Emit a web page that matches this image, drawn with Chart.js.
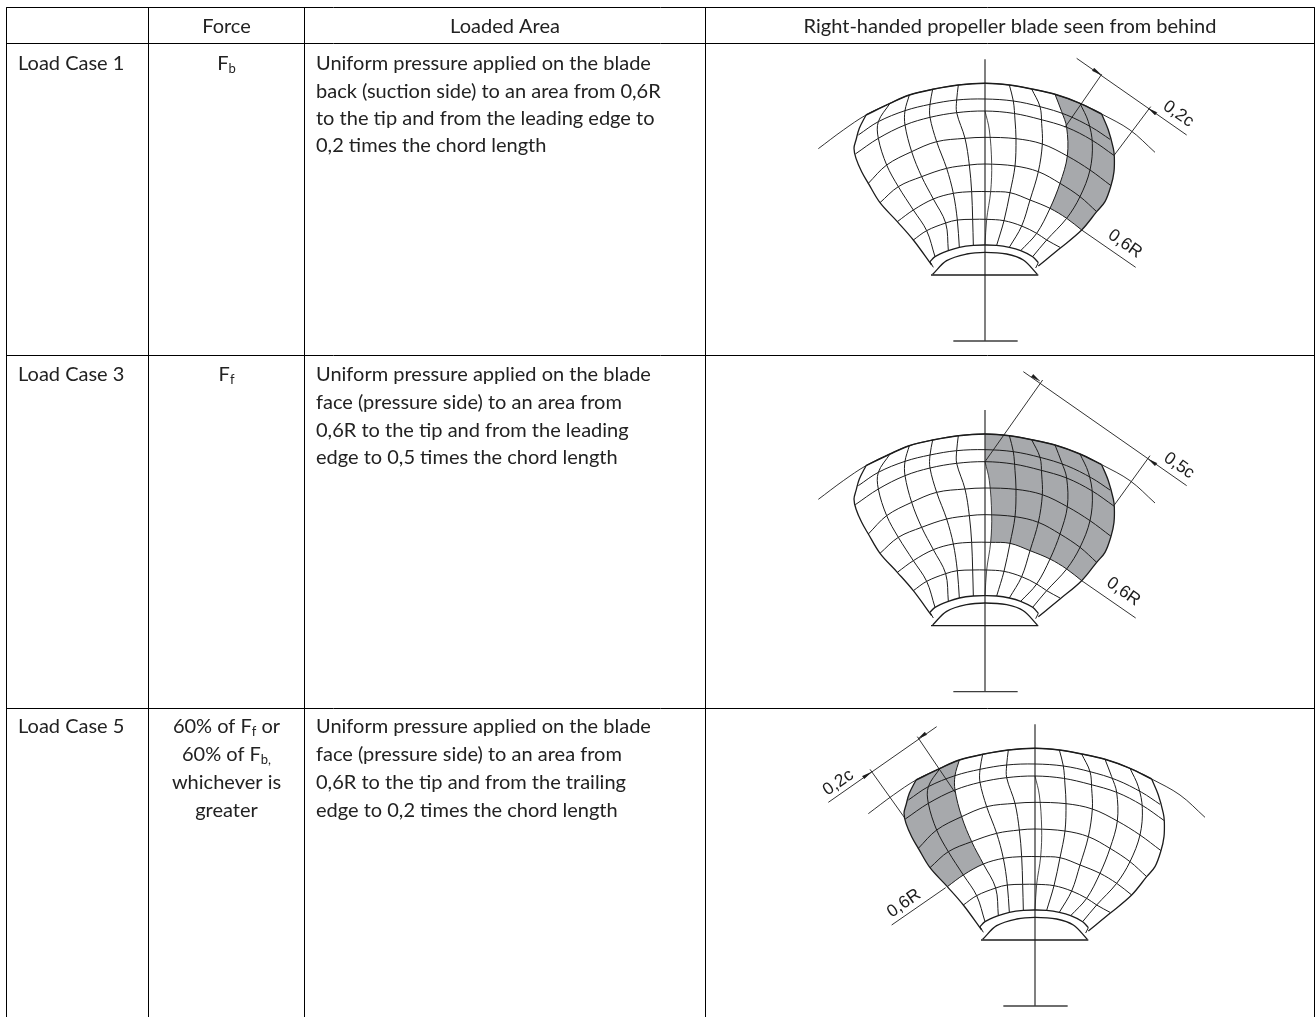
<!DOCTYPE html>
<html><head><meta charset="utf-8">
<style>html,body{margin:0;padding:0;background:#fff}canvas{display:block}</style>
<script src="https://cdn.jsdelivr.net/npm/chart.js@4/dist/chart.umd.js"></script>
</head><body><canvas id="c" width="1316" height="1017"></canvas>
<script>
// ---- table content
const headers = ["Force","Loaded Area","Right-handed propeller blade seen from behind"];
const caseNames = ["Load Case 1","Load Case 3","Load Case 5"];
const forceLines = [
  [[["F",0],["b",1]]],
  [[["F",0],["f",1]]],
  [[["60% of F",0],["f",1],[" or",0]],[["60% of F",0],["b",1],[",",1]],[["whichever is",0]],[["greater",0]]]
];
const areaLines = [
  ["Uniform pressure applied on the blade","back (suction side) to an area from 0,6R","to the tip and from the leading edge to","0,2 times the chord length"],
  ["Uniform pressure applied on the blade","face (pressure side) to an area from","0,6R to the tip and from the leading","edge to 0,5 times the chord length"],
  ["Uniform pressure applied on the blade","face (pressure side) to an area from","0,6R to the tip and from the trailing","edge to 0,2 times the chord length"]
];
// ---- table rules
const ruleYs = [7.5,43.5,355.5,708.5];
const ruleXs = [6.5,148.5,304.5,705.5,1314.5];
const rowTextY = [[64,92,119,146],[375,403,431,458],[727,755,783,811]];
// ---- blade drawing (units: 1/3 px, local to each blade's origin)
const bladeOrigins = [[780,40],[780,390.67],[830,705]];
const tipArc = [[258,225],[330,190],[388,165],[458,148],[535,135],[615,130],[688,135],[755,147],[825,163],[900,190],[965,222]];
const refArc = [[115,326],[190,270],[258,225],[330,190],[388,165],[458,148],[535,135],[615,130],[688,135],[755,147],[825,163],[900,190],[965,222],[1050,270],[1125,337]];
const leftEdge = [[258,225],[238,265],[228,300],[222,325],[228,355],[245,395],[265,430],[300,488],[352,545],[400,600],[455,675]];
const rightEdge = [[965,222],[985,270],[1000,325],[1003,350],[1002,395],[993,437],[975,485],[950,515],[905,570],[840,625],[775,678]];
const ring1 = [[235,285],[295,245],[375,212],[450,193],[530,180],[615,177],[700,183],[780,200],[860,225],[935,262],[990,298]];
const ring2 = [[226,342],[295,295],[375,255],[450,232],[530,218],[615,213],[700,220],[780,238],[860,262],[935,300],[1003,347]];
const ring3 = [[265,430],[320,375],[395,335],[470,305],[555,295],[615,292],[708,296],[787,312],[862,348],[930,390],[993,437]];
const ring4 = [[300,488],[355,440],[425,410],[500,385],[568,375],[615,372],[705,378],[775,395],[840,430],[900,470],[950,515]];
const ring5 = [[352,545],[400,510],[460,477],[520,460],[575,455],[632,455],[690,458],[750,480],[810,505],[860,535],[905,570]];
const ring6 = [[400,600],[440,572],[497,549],[532,540],[578,538],[620,538],[672,542],[725,558],[770,580],[800,600],[840,622]];
const rootOuter = [[450,665],[465,650],[505,632],[538,622],[580,616],[615,615],[650,616],[688,622],[722,632],[758,650],[775,668]];
const rootInner = [[458,703],[500,662],[560,642],[615,637],[680,642],[730,660],[772,703]];
const rootCapL = [[450,665],[460,682]];
const rootCapR = [[775,668],[767,684]];
const rootBase = [[453,705],[775,705]];
const axisLine = [[615,58],[615,903]];
const axisFoot = [[520,903],[713,903]];
const chordL1 = [[330,190],[295,245],[295,295],[320,375],[355,440],[400,510],[440,572],[465,650]];
const chordL2 = [[388,165],[375,212],[375,255],[395,335],[425,410],[460,477],[497,549],[505,632]];
const chordL3 = [[458,148],[450,193],[450,232],[470,305],[500,385],[520,460],[532,540],[538,622]];
const chordL4 = [[535,135],[530,180],[530,218],[555,295],[568,375],[575,455],[578,538],[580,616]];
const chordMid = [[615,213],[628,270],[635,370],[632,455],[620,538],[615,615]];
const chordR1 = [[688,135],[700,183],[705,240],[708,296],[705,378],[690,458],[672,542],[650,616]];
const chordR2 = [[755,147],[780,200],[785,250],[787,312],[775,395],[750,480],[725,558],[688,622]];
const chordR3 = [[825,163],[845,215],[860,262],[862,348],[840,430],[810,505],[770,580],[722,632]];
const chordR4 = [[900,190],[925,245],[937,310],[930,390],[900,470],[860,535],[800,600],[758,650]];
const gridLines = [ring1,ring2,ring3,ring4,ring5,ring6,chordL1,chordL2,chordL3,chordL4,chordR1,chordR2,chordR3,chordR4];
// loaded areas
const shadeCase1 = [].concat(tipArc.slice(8),rightEdge.slice(0,9),ring5.slice(8).reverse(),chordR3.slice(0,6).reverse());
const shadeCase3 = [[615,130]].concat(tipArc.slice(5),rightEdge.slice(0,9),ring5.slice(5).reverse(),chordMid.slice(0,4).reverse(),[[615,213],[615,130]]);
const shadeCase5 = [].concat(tipArc.slice(0,3),chordL2.slice(0,6),ring5.slice(0,3).reverse(),leftEdge.slice(0,9).reverse());
const shades = [shadeCase1,shadeCase3,shadeCase5];
// dimension lines per blade
const dims = [
 {lines:[[[890,55],[1220,285]],[[855,262],[965,103]],[[1003,345],[1112,200]],[[905,570],[1067,682]]],
  arrows:[[[965,105],[937,92],[943,84]],[[1105,205],[1125,225],[1131,217]]],
  labels:[["0,2c",1195,222,35],["0,6R",1035,612,35]]},
 {lines:[[[730,-57],[1220,285]],[[615,213],[788,-32]],[[1003,343],[1110,195]],[[905,570],[1067,682]]],
  arrows:[[[780,-29],[754,-41],[760,-49]],[[1105,205],[1125,225],[1131,217]]],
  labels:[["0,5c",1197,225,35],["0,6R",1030,603,35]]},
 {lines:[[[-5,292],[320,65]],[[225,340],[120,193]],[[375,262],[262,95]],[[347,548],[185,660]]],
  arrows:[[[125,200],[103,221],[97,213]],[[265,100],[290,89],[284,81]]],
  labels:[["0,2c",25,233,-35],["0,6R",222,595,-35]]}
];
// ---- build datasets
const INK="#1c1c1c", SHADE="#a7a9ac", AXIS="#3e3e3e";
const toPx=(b,p)=>({x:bladeOrigins[b][0]+p[0]/3,y:bladeOrigins[b][1]+p[1]/3});
const ds=[];
function add(data,o){ds.push(Object.assign({data,showLine:true,pointRadius:0,borderColor:INK,borderWidth:1,tension:0,fill:false,order:1,borderCapStyle:'butt'},o));}
shades.forEach((s,b)=>add(s.map(p=>toPx(b,p)),{backgroundColor:SHADE,borderWidth:0,borderColor:'transparent',fill:'shape',tension:0.35,order:5}));
bladeOrigins.forEach((_,b)=>{
  const P=a=>a.map(p=>toPx(b,p));
  gridLines.forEach(l=>add(P(l),{tension:0.35,borderWidth:1}));
  add(P(chordMid),{tension:0.35,borderWidth:0.8});
  add(P(refArc),{tension:0.35,borderWidth:0.9});
  add(P(tipArc),{tension:0.35,borderWidth:1.5});
  add(P(leftEdge),{tension:0.35,borderWidth:1.3});
  add(P(rightEdge),{tension:0.35,borderWidth:1.3});
  add(P(rootOuter),{tension:0.35,borderWidth:1.3});
  add(P(rootInner),{tension:0.35,borderWidth:1.3});
  add(P(rootCapL));add(P(rootCapR));
  add(P(rootBase),{borderWidth:1.3});
  add(P(axisLine),{borderWidth:1.3,borderColor:AXIS});
  add(P(axisFoot),{borderWidth:1.3,borderColor:AXIS});
  dims[b].lines.forEach(l=>add(P(l),{borderWidth:0.9}));
  dims[b].arrows.forEach(a=>add(P(a),{backgroundColor:INK,fill:'shape',borderWidth:0.5}));
});
ruleYs.forEach(y=>add([{x:ruleXs[0],y},{x:ruleXs[4],y}],{borderColor:'#000',borderWidth:1}));
ruleXs.forEach((x,i)=>add([{x,y:ruleYs[0]},{x,y:1017}],{borderColor:'#000',borderWidth:1}));

const FONT='Lato', SIZE=20, SCALE=1;
const textPlugin={id:'tableText',afterDatasetsDraw(chart){
  const c=chart.ctx,X=chart.scales.x,Y=chart.scales.y;
  c.save();c.fillStyle='#222';c.textBaseline='middle';
  const segW=(segs)=>segs.reduce((w,[t,s])=>{c.font=(s?13:SIZE)+'px '+FONT;return w+c.measureText(t).width;},0);
  const put=(segs,px,py,align)=>{
    const w=segW(segs)*SCALE;let x=align==='center'?px-w/2:px;
    c.save();c.translate(x,py);c.scale(SCALE,1);let cx=0;c.textAlign='left';
    segs.forEach(([t,s])=>{c.font=(s?13:SIZE)+'px '+FONT;c.fillText(t,cx,s?5:0);cx+=c.measureText(t).width;});
    c.restore();
  };
  const px=v=>X.getPixelForValue(v),py=v=>Y.getPixelForValue(v);
  put([[headers[0],0]],px(226.5),py(27),'center');
  put([[headers[1],0]],px(505),py(27),'center');
  put([[headers[2],0]],px(1010),py(27),'center');
  caseNames.forEach((n,r)=>{
    put([[n,0]],px(18),py(rowTextY[r][0]),'left');
    forceLines[r].forEach((segs,i)=>put(segs,px(226.5),py(rowTextY[r][i]),'center'));
    areaLines[r].forEach((t,i)=>put([[t,0]],px(316),py(rowTextY[r][i]),'left'));
  });
  c.fillStyle='#1c1c1c';c.textAlign='center';c.font='17.5px "Liberation Sans"';
  dims.forEach((d,b)=>d.labels.forEach(([t,x,y,rot])=>{
    const q=toPx(b,[x,y]);c.save();c.translate(px(q.x),py(q.y));c.rotate(rot*Math.PI/180);c.fillText(t,0,0);c.restore();
  }));
  c.restore();
}};
new Chart(document.getElementById('c'),{
  type:'scatter',
  data:{datasets:ds},
  options:{responsive:false,animation:false,events:[],clip:false,
    layout:{padding:0},
    scales:{x:{type:'linear',min:0,max:1316,display:false},y:{type:'linear',min:0,max:1017,reverse:true,display:false}},
    plugins:{legend:{display:false},tooltip:{enabled:false},title:{display:false}}},
  plugins:[textPlugin]
});
</script></body></html>
